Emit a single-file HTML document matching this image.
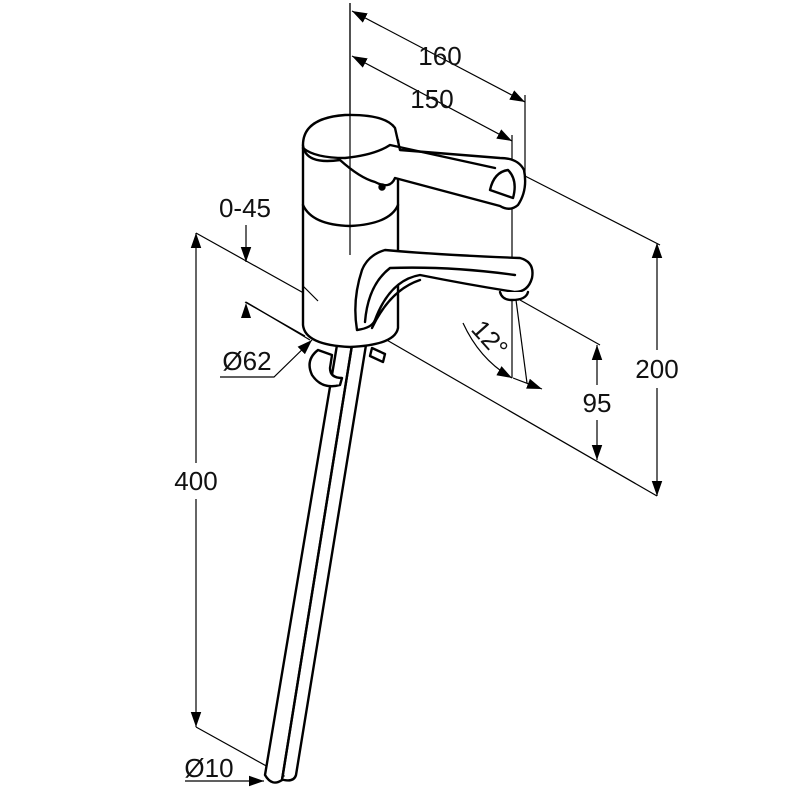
<!DOCTYPE html>
<html><head><meta charset="utf-8"><style>
html,body{margin:0;padding:0;background:#fff;}
svg{display:block;}
text{font-family:"Liberation Sans",sans-serif;font-size:26px;fill:#111;}
</style></head><body>
<svg width="800" height="799" viewBox="0 0 800 799" xmlns="http://www.w3.org/2000/svg">
<defs>
<marker id="a" viewBox="0 0 10 10" refX="10" refY="5" markerWidth="15" markerHeight="15" markerUnits="userSpaceOnUse" orient="auto-start-reverse"><path d="M0,1.5 L10,5 L0,8.5z" fill="#000"/></marker>
</defs>
<g stroke="#000" stroke-width="1.2" fill="none">
<line x1="350" y1="3" x2="350" y2="255"/>
<line x1="352" y1="11" x2="525" y2="102" marker-start="url(#a)" marker-end="url(#a)"/>
<line x1="525" y1="95" x2="525" y2="175"/>
<line x1="352" y1="56" x2="512" y2="141" marker-start="url(#a)" marker-end="url(#a)"/>
<line x1="512" y1="135" x2="512" y2="378"/>
<line x1="525" y1="176" x2="660" y2="245"/>
<line x1="657" y1="243" x2="657" y2="350" marker-start="url(#a)"/>
<line x1="657" y1="388" x2="657" y2="496" marker-end="url(#a)"/>
<line x1="196" y1="233" x2="318" y2="301"/>
<line x1="385" y1="339" x2="657" y2="496"/>
<line x1="520" y1="300" x2="600" y2="345"/>
<line x1="597" y1="345" x2="597" y2="385" marker-start="url(#a)"/>
<line x1="597" y1="420" x2="597" y2="460" marker-end="url(#a)"/>
<line x1="516" y1="300" x2="527" y2="383"/>
<line x1="513" y1="378" x2="542" y2="389" marker-end="url(#a)"/>
<path d="M463,323 Q480,360 512,378" marker-end="url(#a)"/>
<line x1="196" y1="233" x2="196" y2="727" marker-start="url(#a)" marker-end="url(#a)"/>
<rect x="170" y="463" width="52" height="36" fill="#fff" stroke="none"/>
<line x1="196" y1="727" x2="288" y2="778"/>
<line x1="246" y1="225" x2="246" y2="262" marker-end="url(#a)"/>
<line x1="246" y1="302" x2="310" y2="340"/>
<polyline points="220,377 274,377 312,340" marker-end="url(#a)"/>
<line x1="185" y1="781" x2="264" y2="781" marker-end="url(#a)"/>
</g>
<path d="M246,303 L241,318 L251,318z" fill="#000"/>
<g stroke="#000" stroke-width="2.4" fill="#fff" stroke-linejoin="round" stroke-linecap="round">
<path d="M337,345 L265,775 Q272,787 282,780 L352,345"/>
<path d="M352,345 L282,780 M366,345 L296,775 Q294,782 284,780"/>
<path d="M303,145 L303,325 Q305,345 350,347 Q395,345 398,328 L398,140"/>
<path d="M303,205 Q312,225 350,226 Q390,224 398,205" fill="none"/>
<path d="M303,145 Q303,118 345,115 Q385,114 395,128 L400,150 L500,158 Q518,158 524,170 Q528,190 518,205 Q510,212 500,206 L395,178 Q390,190 375,182 Q360,178 340,160 Q305,165 303,145z"/>
<path d="M303,148 Q315,158 345,158 Q375,155 390,145 L495,168" fill="none"/>
<path d="M508,170 Q518,180 513,198 L490,190 Q494,172 508,170z" fill="none"/>
<circle cx="382" cy="187" r="2.5" fill="#000"/>
<path d="M357,330 Q352,300 362,270 Q368,255 385,250 Q440,255 520,258 Q535,262 532,278 Q528,292 515,292 Q470,285 420,275 Q390,280 375,320 Q372,328 357,330z"/>
<path d="M365,322 Q368,285 390,268 Q450,266 515,275" fill="none"/>
<path d="M372,328 Q390,290 420,280" fill="none"/>
<path d="M500,292 Q502,300 512,300 Q526,300 528,292" fill="#fff"/>
<path d="M318,350 Q305,360 312,375 Q322,390 340,385 L342,378 Q330,378 330,368 L332,355z"/>
<path d="M372,348 L385,354 L383,362 L370,356z"/>
</g>
<g stroke="#000" stroke-width="1.2" fill="none">
<line x1="350" y1="3" x2="350" y2="255"/>
<line x1="303" y1="286" x2="318" y2="301"/>
<line x1="245" y1="302" x2="305" y2="336"/>
</g>
<text x="440" y="65" text-anchor="middle">160</text>
<text x="432" y="108" text-anchor="middle">150</text>
<text x="245" y="217" text-anchor="middle">0-45</text>
<text x="247" y="370" text-anchor="middle">Ø62</text>
<text x="196" y="490" text-anchor="middle">400</text>
<text x="209" y="777" text-anchor="middle">Ø10</text>
<text x="657" y="378" text-anchor="middle">200</text>
<text x="597" y="412" text-anchor="middle">95</text>
<text x="0" y="0" transform="translate(470,330) rotate(48)">12°</text>
</svg>
</body></html>
